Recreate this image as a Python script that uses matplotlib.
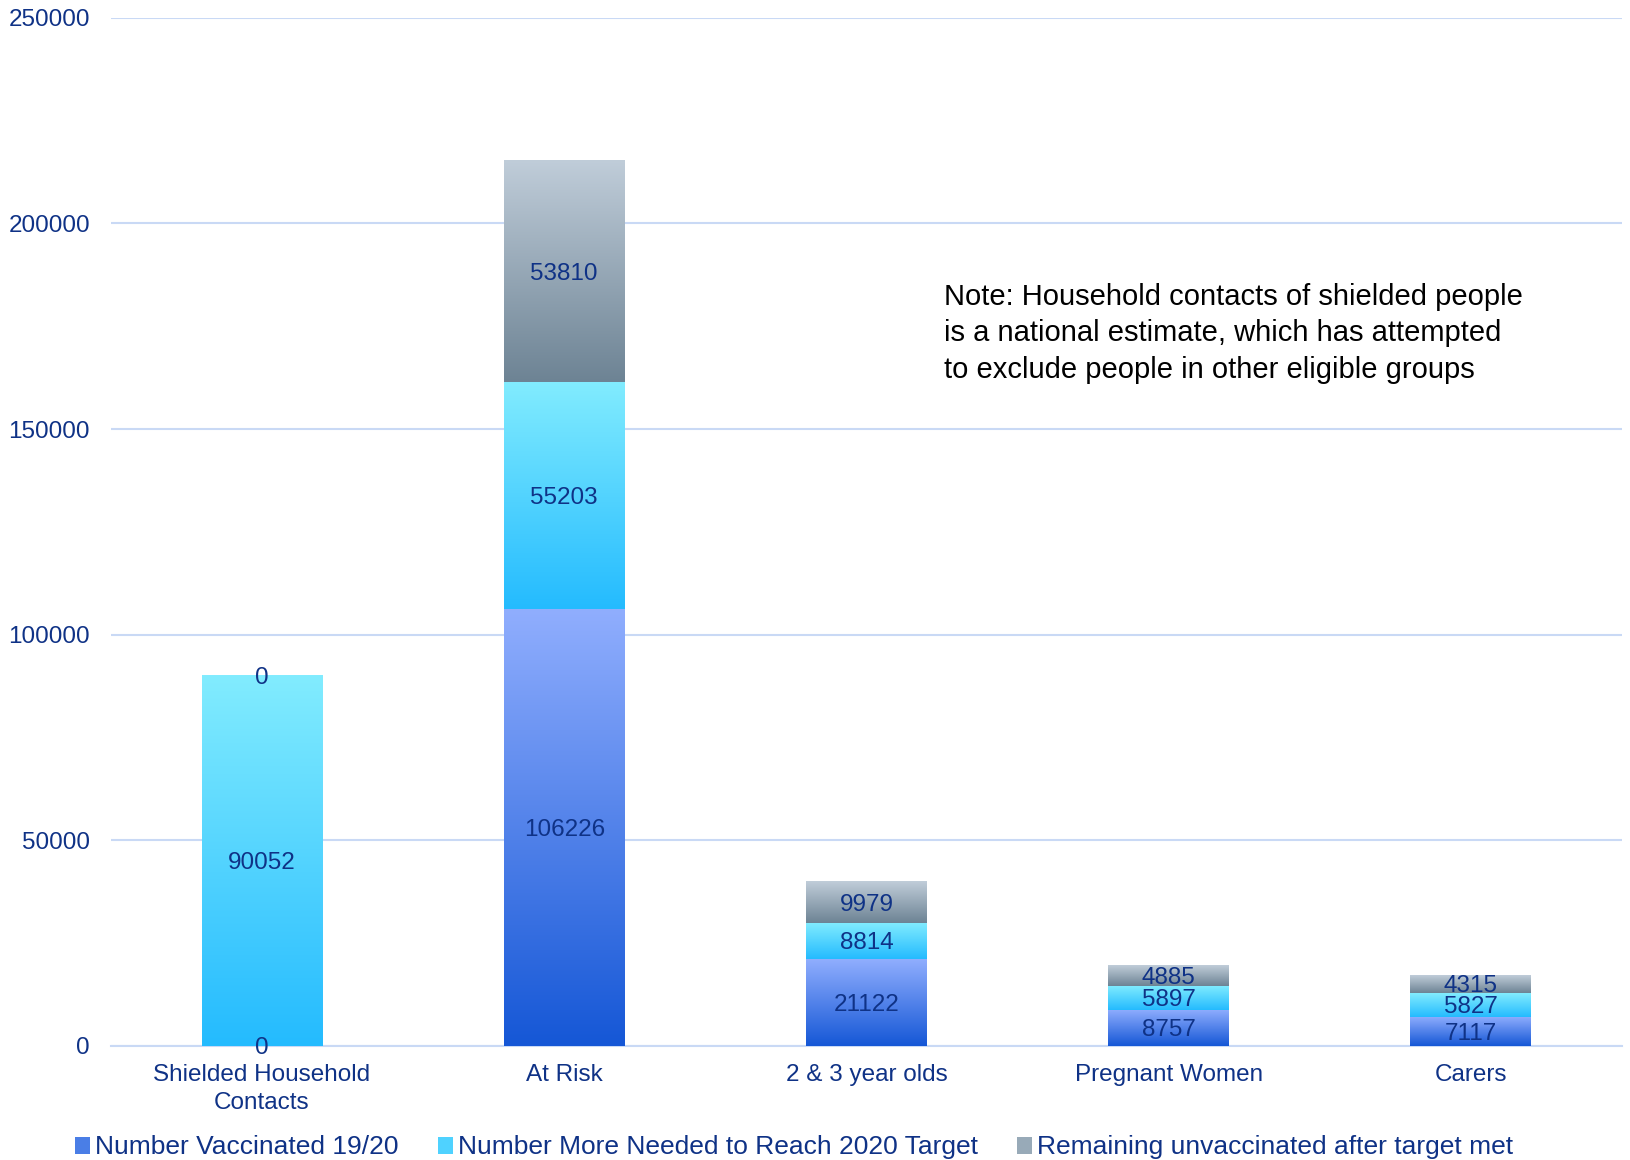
import numpy as np
import matplotlib.pyplot as plt
from matplotlib.colors import LinearSegmentedColormap
from matplotlib.patches import Patch

plt.rcParams['font.family'] = ['Liberation Sans', 'DejaVu Sans']

categories = ["Shielded Household\nContacts", "At Risk", "2 & 3 year olds",
              "Pregnant Women", "Carers"]
vaccinated = [0, 106226, 21122, 8757, 7117]
more_needed = [90052, 55203, 8814, 5897, 5827]
remaining = [0, 53810, 9979, 4885, 4315]
series_names = ["Number Vaccinated 19/20",
                "Number More Needed to Reach 2020 Target",
                "Remaining unvaccinated after target met"]
yticks = [0, 50000, 100000, 150000, 200000, 250000]

navy = "#0f3286"
grid_col = "#c9d9f5"
# (bottom, top) colours of each gradient
grads = [("#1557d6", "#90aefe"), ("#24bbfe", "#82ecff"), ("#6d8394", "#c0cdd9")]

fig = plt.figure(figsize=(16.31, 11.6), dpi=100)
ax = fig.add_axes([0.068, 0.0983, 0.9265, 0.8864])

x = np.arange(len(categories))
w = 0.40
grad = np.linspace(0, 1, 256).reshape(-1, 1)
bottom = np.zeros(len(categories))
for vals, (c0, c1), name in zip([vaccinated, more_needed, remaining], grads, series_names):
    bars = ax.bar(x, vals, w, bottom=bottom, color="none", edgecolor="none",
                  zorder=3, label=name)
    cmap = LinearSegmentedColormap.from_list(name, [c0, c1])
    for b, v in zip(bars, vals):
        bx, by, bw, bh = b.get_x(), b.get_y(), b.get_width(), b.get_height()
        if bh > 0:
            ax.imshow(grad, extent=(bx, bx + bw, by, by + bh), origin="lower",
                      cmap=cmap, aspect="auto", zorder=3)
        ax.text(bx + bw / 2, by + bh / 2, str(v), ha="center", va="center_baseline",
                fontsize=17.5, color=navy, zorder=5)
    bottom = bottom + np.array(vals)

ax.set_xlim(-0.5, 4.5)
ax.set_ylim(0, 250000)
ax.set_yticks(yticks)
ax.set_yticklabels([str(t) for t in yticks])
ax.set_xticks(x)
ax.set_xticklabels(categories, linespacing=1.35)
ax.tick_params(axis="y", length=0, pad=15, labelsize=17.5, labelcolor=navy)
ax.tick_params(axis="x", length=0, pad=13, labelsize=17.5, labelcolor=navy)
ax.grid(axis="y", color=grid_col, linewidth=1.5, zorder=0)
ax.set_axisbelow(True)
for s in ["top", "right", "left"]:
    ax.spines[s].set_visible(False)
ax.spines["bottom"].set_color(grid_col)
ax.spines["bottom"].set_linewidth(1.5)

ax.text(0.551, 0.742, "Note: Household contacts of shielded people\n"
        "is a national estimate, which has attempted\n"
        "to exclude people in other eligible groups",
        transform=ax.transAxes, fontsize=21, color="black",
        va="top", ha="left", linespacing=1.38)

handles = [Patch(facecolor=c, edgecolor="none") for c in ["#4a7ee6", "#4fd2ff", "#98aab8"]]
leg = fig.legend(handles, series_names, loc="lower center", ncol=3, frameon=False,
                 bbox_to_anchor=(0.487, -0.02), fontsize=19, handlelength=0.55,
                 handleheight=0.6, handletextpad=0.2, columnspacing=1.5)
for t in leg.get_texts():
    t.set_color(navy)

fig.savefig("out.png", dpi=100)
